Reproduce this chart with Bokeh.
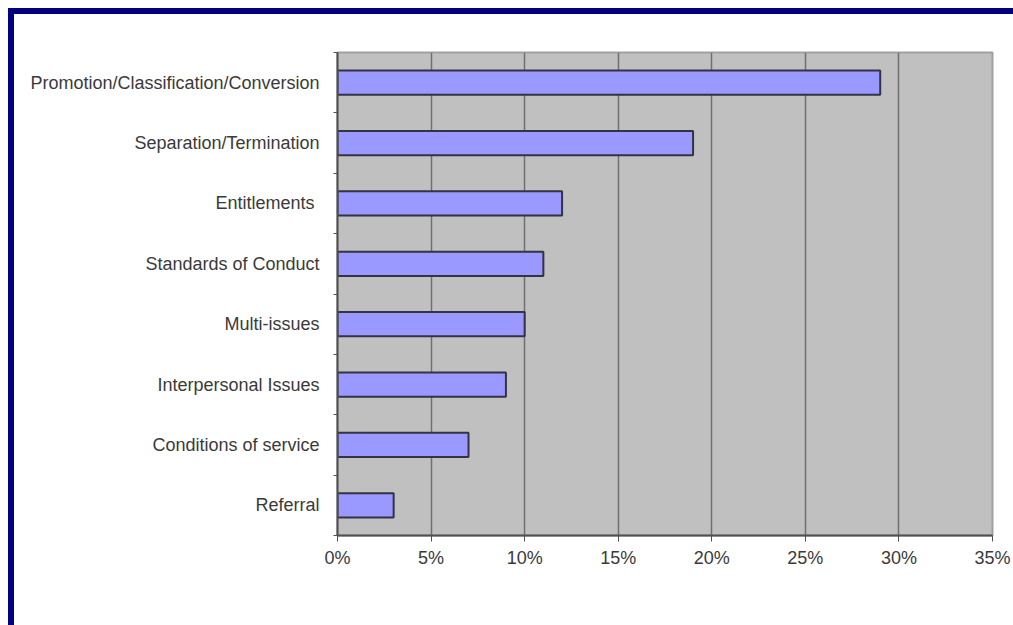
from bokeh.plotting import figure
from bokeh.models import (ColumnDataSource, FixedTicker, NumeralTickFormatter,
                          Range1d)
from bokeh.embed import file_html
from bokeh.resources import INLINE

categories = ["Promotion/Classification/Conversion", "Separation/Termination",
              "Entitlements ", "Standards of Conduct", "Multi-issues",
              "Interpersonal Issues", "Conditions of service", "Referral"]
shares = [0.29, 0.19, 0.12, 0.11, 0.10, 0.09, 0.07, 0.03]
x_ticks = [0, 0.05, 0.10, 0.15, 0.20, 0.25, 0.30, 0.35]

n = len(categories)
ypos = [n - 1 - i + 0.5 for i in range(n)]
src = ColumnDataSource(dict(cat=categories, v=shares, y=ypos))

# figure sits 14px in from the top-left of the window; a navy border is drawn
# around its top and left edges with a CSS box-shadow
p = figure(width=999, height=611, output_backend="svg", toolbar_location=None,
           x_range=Range1d(0, 0.35), y_range=Range1d(0, n),
           min_border_left=323, min_border_right=21, min_border_top=38,
           min_border_bottom=90)
p.styles = {"margin-left": "14px", "margin-top": "14px",
            "box-shadow": "-3px -3px 0 3px #000080"}
p.background_fill_color = "#c0c0c0"
p.border_fill_color = "white"
p.outline_line_color = "#a0a0a0"
p.outline_line_width = 2

p.hbar(y="y", right="v", left=0, height=0.4, source=src,
       fill_color="#9999ff", line_color="#333344", line_width=2)

FONT = "Liberation Sans"
# x axis
p.xaxis.ticker = FixedTicker(ticks=x_ticks)
p.xaxis.formatter = NumeralTickFormatter(format="0%")
p.xaxis.axis_line_color = "#505050"
p.xaxis.axis_line_width = 2
p.xaxis.major_tick_line_color = "#505050"
p.xaxis.major_tick_out = 6
p.xaxis.major_tick_in = 0
p.xaxis.minor_tick_line_color = None
p.xaxis.major_label_text_font = FONT
p.xaxis.major_label_text_font_size = "18px"
p.xaxis.major_label_text_color = "#3a3a3a"
p.xaxis.major_label_standoff = 6

# y axis
p.yaxis.ticker = FixedTicker(ticks=ypos, minor_ticks=list(range(n + 1)))
p.yaxis.major_label_overrides = {y: c for y, c in zip(ypos, categories)}
p.yaxis.axis_line_color = "#505050"
p.yaxis.axis_line_width = 2
p.yaxis.major_tick_line_color = None
p.yaxis.major_tick_out = 0
p.yaxis.major_tick_in = 0
p.yaxis.minor_tick_line_color = "#505050"
p.yaxis.minor_tick_out = 4
p.yaxis.minor_tick_in = 0
p.yaxis.major_label_text_font = FONT
p.yaxis.major_label_text_font_size = "18px"
p.yaxis.major_label_text_color = "#3a3a3a"
p.yaxis.major_label_standoff = 14

p.xgrid.ticker = FixedTicker(ticks=x_ticks)
p.xgrid.grid_line_color = "#707070"
p.xgrid.grid_line_width = 1.5
p.ygrid.grid_line_color = None

open("out.html", "w").write(file_html(p, INLINE))
